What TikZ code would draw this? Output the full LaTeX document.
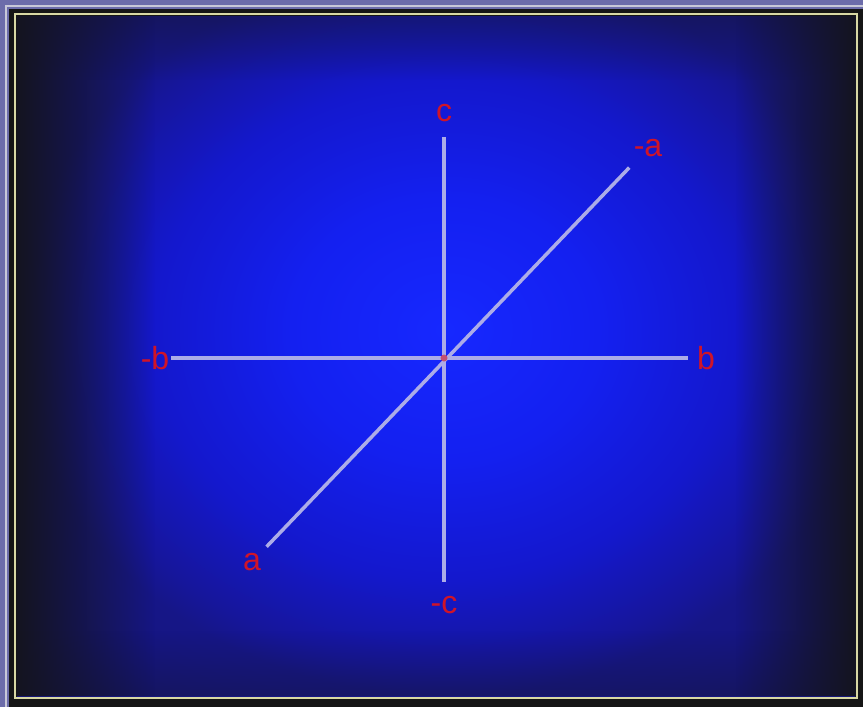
\documentclass[tikz,border=0pt]{standalone}
\usepackage{fontspec}
\setsansfont{Liberation Sans}
\usetikzlibrary{fadings}
\definecolor{framelav}{HTML}{6C6CAA}
\definecolor{framedark}{HTML}{151515}
\definecolor{frameedge}{HTML}{C8C8D8}
\definecolor{framecream}{HTML}{D8D8A4}
\definecolor{axiscol}{HTML}{ACACE8}
\definecolor{labelred}{HTML}{D01428}
\definecolor{shadow}{HTML}{141420}
\pgfdeclareradialshading{glow}{\pgfpoint{0bp}{0bp}}{%
  color(0bp)=(rgb,255:red,22;green,40;blue,255);
  color(9bp)=(rgb,255:red,20;green,32;blue,240);
  color(17bp)=(rgb,255:red,20;green,24;blue,205);
  color(23bp)=(rgb,255:red,22;green,22;blue,155);
  color(25bp)=(rgb,255:red,22;green,22;blue,135);
  color(50bp)=(rgb,255:red,22;green,22;blue,90)}
\begin{document}
\begin{tikzpicture}[x=1pt,y=-1pt,
  lbl/.style={text=labelred,font=\fontsize{32}{32}\selectfont\sffamily,inner sep=2pt},
  axis/.style={draw=axiscol,line width=3.5pt}]
  \useasboundingbox (0,0) rectangle (863,707);
  % frame
  \fill[framelav] (0,0) rectangle (863,707);
  \fill[framedark] (9,9) rectangle (863,707);
  \draw[frameedge,line width=2.5pt] (6,707) -- (6,6) -- (863,6);
  \begin{scope}
    \clip (17,16) rectangle (855,696);
    \shade[shading=glow] (17,-36) rectangle (873,696);
    % darker edges
    \fill[shadow,path fading=east] (17,16) rectangle (155,696);
    \fill[shadow,path fading=west] (735,16) rectangle (855,696);
    \fill[shadow,opacity=0.35,path fading=south] (17,16) rectangle (855,80);
    \fill[shadow,opacity=0.3,path fading=north] (17,630) rectangle (855,696);
  \end{scope}
  \draw[framecream,line width=2.5pt] (15,14) rectangle (857,698);
  % axes
  \node[lbl] (c) at (444,113) {c};
  \node[lbl] (nc) at (444,605) {-c};
  \node[lbl] (nb) at (155,358) {-b};
  \node[lbl] (b) at (706,358) {b};
  \node[lbl] (a) at (252,562) {a};
  \node[lbl] (na) at (648,148) {-a};
  \coordinate (o) at (444,358);
  \draw[axis,shorten <=13pt,shorten >=12pt] (c) -- (nc);
  \draw[axis,shorten >=7pt] (nb) -- (b);
  \draw[axis,shorten <=6pt,shorten >=12pt] (a) -- (na);
  \fill[labelred,opacity=0.6] (o) circle (3.5);
\end{tikzpicture}
\end{document}
